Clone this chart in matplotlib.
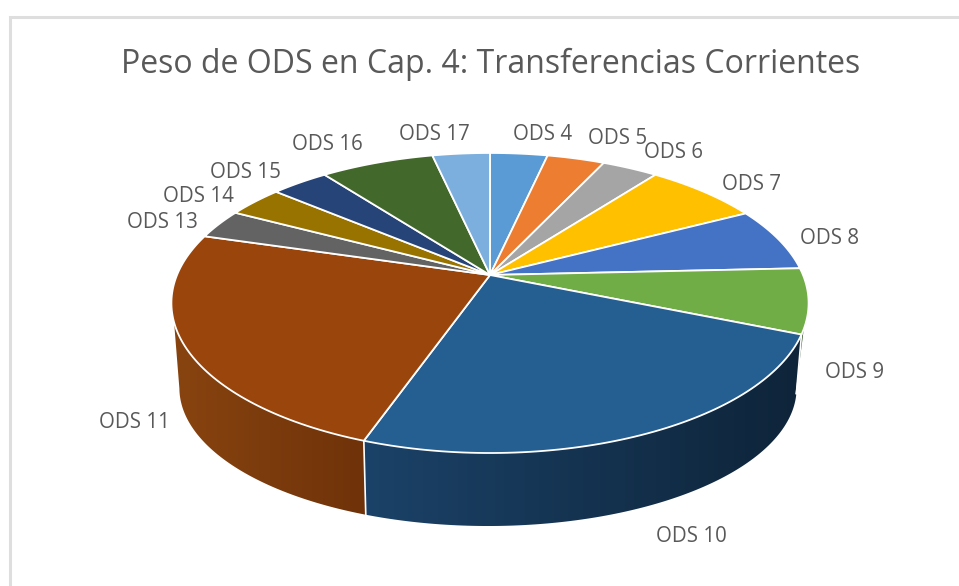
import numpy as np
import matplotlib
matplotlib.use("Agg")
import matplotlib.pyplot as plt
from matplotlib.colors import LinearSegmentedColormap
from matplotlib.patches import Polygon

plt.rcParams['font.family'] = ['Open Sans', 'DejaVu Sans']

titulo = "Peso de ODS en Cap. 4: Transferencias Corrientes"
categorias = ["ODS 4", "ODS 5", "ODS 6", "ODS 7", "ODS 8", "ODS 9", "ODS 10",
              "ODS 11", "ODS 13", "ODS 14", "ODS 15", "ODS 16", "ODS 17"]
valores = [3.5, 3.5, 3.4, 7.0, 6.9, 7.0, 24.2, 24.2, 3.2, 3.4, 3.5, 6.9, 3.5]
colores = ["#5B9BD5", "#ED7D31", "#A5A5A5", "#FFC000", "#4472C4", "#70AD47", "#255E91",
           "#9A450C", "#636363", "#997300", "#264478", "#43682B", "#7CAFDD"]

# posicion de cada etiqueta, en pixeles de la imagen
pos_etiquetas = [(543, 134), (618, 139), (674, 152), (752, 185), (830, 239), (855, 373),
                 (691, 536), (134, 423), (162, 222), (198, 197), (245, 173), (327, 144),
                 (434, 134)]

# paredes laterales: color izquierda -> derecha
pared = {"ODS 9": ("#2C4A1C", "#2C4A1C"),
         "ODS 10": ("#1B4268", "#0E2439"),
         "ODS 11": ("#884410", "#6F3209")}

# angulos donde la silueta de la pared toca el disco (arriba y abajo)
sil_der_sup, sil_der_inf = 108.9, 103
sil_izq_sup, sil_izq_inf = 252, 259

# geometria del disco con perspectiva
cx, cy = 490, 275
rx, a, k = 313, 144.8, 0.1866
c1 = np.array([490, 303])
c2 = np.array([488, 388])
esc = np.array([309 / 319, 138 / 150])


def borde(t):
    # t en grados, horario desde las 12
    u = np.sin(np.radians(t))
    v = -np.cos(np.radians(t))
    d = 1 - k * v
    return np.column_stack([cx + rx * u / d, cy + a * v / d])


def abajo(p):
    return c2 + (p - c1) * esc


fig = plt.figure(figsize=(9.59, 5.86), dpi=100)
ax = fig.add_axes([0, 0, 1, 1])
ax.axis('off')

# marco del grafico
ax.plot([10, 10, 959], [586, 17, 17], color="#DEDEDE", lw=2.2, solid_joinstyle='miter')

limites = np.cumsum([0] + valores) / sum(valores) * 360
fin_9, fin_10 = limites[6], limites[7]

tramos = {"ODS 9": ((sil_der_sup, fin_9), (sil_der_inf, sil_der_inf)),
          "ODS 10": ((fin_9, fin_10), (sil_der_inf, fin_10)),
          "ODS 11": ((fin_10, sil_izq_sup), (fin_10, sil_izq_inf))}

# paredes: degradado recortado con la forma de cada pared
for nombre in ["ODS 9", "ODS 10", "ODS 11"]:
    (s0, s1), (i0, i1) = tramos[nombre]
    sup = borde(np.linspace(s0, s1, 120))
    inf = abajo(borde(np.linspace(i0, i1, 120)))
    contorno = np.vstack([sup, inf[::-1]])
    x0, y0 = contorno.min(axis=0)
    x1, y1 = contorno.max(axis=0)
    cmap = LinearSegmentedColormap.from_list(nombre, pared[nombre])
    im = ax.imshow(np.linspace(0, 1, 256).reshape(1, -1), cmap=cmap, aspect='auto',
                   extent=(x0, x1, y1, y0), interpolation='bilinear', zorder=2)
    forma = Polygon(contorno, closed=True, transform=ax.transData, facecolor='none', edgecolor='none')
    ax.add_patch(forma)
    im.set_clip_path(forma)

# costuras blancas de la pared
for t_sup, t_inf in [(fin_9, sil_der_inf), (fin_10, fin_10), (sil_der_sup, sil_der_inf)]:
    p = borde(np.array([t_sup]))
    q = abajo(borde(np.array([t_inf])))
    ax.plot([p[0, 0], q[0, 0]], [p[0, 1], q[0, 1]], color="white", lw=1.2, zorder=3)

# cara superior
for col, ini, fin in zip(colores, limites[:-1], limites[1:]):
    ts = np.linspace(ini, fin, 80)
    pts = np.vstack([[cx, cy], borde(ts)])
    ax.add_patch(Polygon(pts, closed=True, facecolor=col, edgecolor="white", lw=1.3,
                         joinstyle='round', zorder=5))

ax.set_xlim(0, 959)
ax.set_ylim(586, 0)

for nombre, (x, y) in zip(categorias, pos_etiquetas):
    ax.text(x, y, nombre, ha='center', va='center', fontsize=14.8, color="#595959", zorder=6)

ax.text(491, 64, titulo, ha='center', va='center', fontsize=23, color="#595959", zorder=6)

fig.savefig("out.png", dpi=100)
